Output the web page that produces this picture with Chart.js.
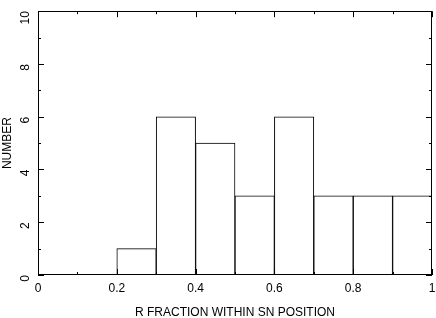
<!DOCTYPE html>
<html>
<head>
<meta charset="UTF-8">
<title>R fraction histogram</title>
<script src="https://cdn.jsdelivr.net/npm/chart.js"></script>
<style>
    body { margin: 0; background: #fff; }
    #wrap { width: 436px; height: 318px; }
</style>
</head>
<body>
<div id="wrap"><canvas id="hist" width="436" height="318"></canvas></div>
<script>
// histogram bins (0.1 wide, given by their centres) and counts
const binCentres = [0.05, 0.15, 0.25, 0.35, 0.45, 0.55, 0.65, 0.75, 0.85, 0.95];
const counts = [0, 0, 1, 6, 5, 3, 6, 3, 3, 3];

const xMajor = [0, 0.2, 0.4, 0.6, 0.8, 1];
const xMinor = [0.1, 0.3, 0.5, 0.7, 0.9];
const yMajor = [0, 2, 4, 6, 8, 10];
const yMinor = [1, 3, 5, 7, 9];

const FONT = { family: '"Liberation Sans", Arial, sans-serif', size: 12 };

// frame + inward ticks on all four sides
const frame = {
    id: 'frame',
    afterDraw(chart) {
        const ctx = chart.ctx;
        const a = chart.chartArea;
        const sx = chart.scales.x, sy = chart.scales.y;
        ctx.save();
        ctx.strokeStyle = '#000';
        ctx.lineWidth = 1;
        ctx.beginPath();
        ctx.rect(Math.round(a.left) + 0.5, Math.round(a.top) + 0.5,
                 Math.round(a.right - a.left) - 1, Math.round(a.bottom - a.top) - 1);
        const tx = (v, len) => {
            const p = Math.round(sx.getPixelForValue(v)) + 0.5;
            ctx.moveTo(p, a.bottom); ctx.lineTo(p, a.bottom - len);
            ctx.moveTo(p, a.top); ctx.lineTo(p, a.top + len);
        };
        const ty = (v, len) => {
            const p = Math.round(sy.getPixelForValue(v)) + 0.5;
            ctx.moveTo(a.left, p); ctx.lineTo(a.left + len, p);
            ctx.moveTo(a.right, p); ctx.lineTo(a.right - len, p);
        };
        xMajor.forEach(v => tx(v, 6));
        xMinor.forEach(v => tx(v, 3));
        yMajor.forEach(v => ty(v, 6));
        yMinor.forEach(v => ty(v, 3));
        ctx.stroke();
        ctx.restore();
    }
};

new Chart(document.getElementById('hist'), {
    type: 'bar',
    data: {
        datasets: [{
            data: binCentres.map((c, i) => ({ x: c, y: counts[i] })),
            backgroundColor: '#fff',
            borderColor: '#000',
            borderWidth: 1,
            borderSkipped: false,
            barPercentage: 1,
            categoryPercentage: 1
        }]
    },
    options: {
        responsive: false,
        animation: false,
        devicePixelRatio: 1,
        layout: { padding: { top: 9, right: 4, left: 0, bottom: 0 } },
        plugins: { legend: { display: false }, tooltip: { enabled: false } },
        scales: {
            x: {
                type: 'linear',
                position: 'bottom',
                offset: false,
                min: 0, max: 1,
                afterBuildTicks: s => { s.ticks = xMajor.map(v => ({ value: v })); },
                grid: { display: false, offset: false },
                border: { display: false },
                ticks: { color: '#000', font: FONT, padding: -2, maxRotation: 0,
                         callback: v => String(v) },
                title: { display: true, text: 'R FRACTION WITHIN SN POSITION',
                         color: '#000', font: FONT, padding: { top: 8, bottom: -2 } },
                afterFit: s => { s.height = 43; }
            },
            y: {
                min: 0, max: 10,
                afterBuildTicks: s => { s.ticks = yMajor.map(v => ({ value: v })); },
                grid: { display: false },
                border: { display: false },
                ticks: { color: '#000', font: FONT, padding: 4, minRotation: 90, maxRotation: 90 },
                title: { display: true, text: 'NUMBER', color: '#000', font: FONT,
                         padding: { top: 0, bottom: 3 } },
                afterFit: s => { s.width = 38; }
            }
        }
    },
    plugins: [frame]
});
</script>
</body>
</html>
